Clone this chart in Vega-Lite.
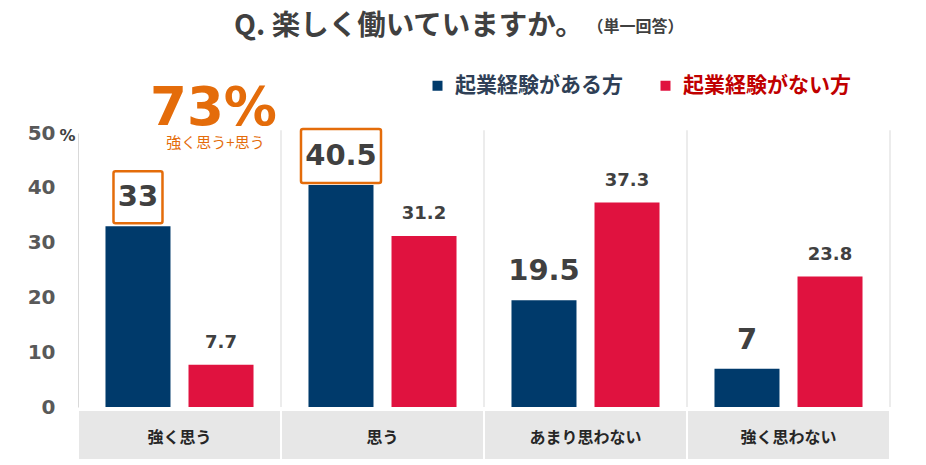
{
  "$schema": "https://vega.github.io/schema/vega-lite/v6.json",
  "width": 812,
  "height": 274,
  "autosize": "none",
  "padding": {"left": 78, "top": 133, "right": 36, "bottom": 58},
  "background": "white",
  "title": {
    "text": "Q. 楽しく働いていますか。",
    "anchor": "start",
    "frame": "group",
    "dx": 156,
    "dy": 21,
    "font": "Noto Sans CJK JP",
    "fontSize": 28.5,
    "fontWeight": "bold",
    "color": "#404040",
    "offset": 0
  },
  "config": {
    "view": {"stroke": null},
    "axisX": {
      "labelFont": "Noto Sans CJK JP",
      "labelFontWeight": "bold",
      "labelFontSize": 16,
      "labelColor": "#262626",
      "ticks": false,
      "domain": false,
      "grid": false,
      "labelPadding": 30,
      "labelBaseline": "middle",
      "labelAngle": 0
    },
    "axisY": {
      "labelFont": "DejaVu Sans",
      "labelFontWeight": "bold",
      "labelFontSize": 20,
      "labelColor": "#595959",
      "ticks": false,
      "domain": true,
      "domainColor": "#d9d9d9",
      "grid": false,
      "labelPadding": 23,
      "titleAngle": 0,
      "titleX": -11,
      "titleY": 2,
      "titleAlign": "center",
      "titleBaseline": "middle",
      "titleFont": "DejaVu Sans",
      "titleFontSize": 16,
      "titleFontWeight": "bold",
      "titleColor": "#404040"
    }
  },
  "data": {
    "values": [
      {"category": "強く思う", "series": "起業経験がある方", "value": 33},
      {"category": "強く思う", "series": "起業経験がない方", "value": 7.7},
      {"category": "思う", "series": "起業経験がある方", "value": 40.5},
      {"category": "思う", "series": "起業経験がない方", "value": 31.2},
      {"category": "あまり思わない", "series": "起業経験がある方", "value": 19.5},
      {"category": "あまり思わない", "series": "起業経験がない方", "value": 37.3},
      {"category": "強く思わない", "series": "起業経験がある方", "value": 7},
      {"category": "強く思わない", "series": "起業経験がない方", "value": 23.8}
    ]
  },
  "layer": [
    {
      "transform": [{"filter": "datum.series === '起業経験がある方'"}],
      "mark": {"type": "rect", "fill": "#e7e7e7", "stroke": "white", "strokeWidth": 2},
      "encoding": {
        "x": {"field": "category", "type": "nominal", "title": null, "axis": {"zindex": 1}, "scale": {"domain": ["強く思う", "思う", "あまり思わない", "強く思わない"], "paddingInner": 0, "paddingOuter": 0}},
        "y": {"datum": -0.55, "type": "quantitative", "title": "%", "scale": {"domain": [0, 50], "nice": false}},
        "y2": {"datum": -9.67}
      }
    },
    {
      "transform": [{"filter": "datum.series === '起業経験がある方'"}],
      "mark": {"type": "rule", "color": "#d9d9d9", "strokeWidth": 1},
      "encoding": {
        "x": {"field": "category", "type": "nominal", "title": null, "axis": {"zindex": 1}, "bandPosition": 1, "scale": {"domain": ["強く思う", "思う", "あまり思わない", "強く思わない"], "paddingInner": 0, "paddingOuter": 0}},
        "y": {"datum": 50.5, "type": "quantitative", "title": "%", "scale": {"domain": [0, 50], "nice": false}},
        "y2": {"datum": 0}
      }
    },
    {
      "mark": {"type": "bar"},
      "encoding": {
        "x": {"field": "category", "type": "nominal", "title": null, "axis": {"zindex": 1}, "scale": {"domain": ["強く思う", "思う", "あまり思わない", "強く思わない"], "paddingInner": 0, "paddingOuter": 0}},
        "xOffset": {"field": "series", "type": "nominal", "scale": {"domain": ["起業経験がある方", "起業経験がない方"], "paddingInner": 0.217, "paddingOuter": 0.331}},
        "y": {"field": "value", "type": "quantitative", "title": "%", "scale": {"domain": [0, 50], "nice": false}},
        "color": {
          "field": "series",
          "type": "nominal",
          "scale": {"domain": ["起業経験がある方", "起業経験がない方"], "range": ["#003a6b", "#e0123f"]},
          "legend": {
            "orient": "none",
            "legendX": 349,
            "legendY": -58,
            "direction": "horizontal",
            "title": null,
            "symbolType": "square",
            "symbolSize": 100,
            "symbolStrokeWidth": 0,
            "symbolOpacity": 1,
            "labelFont": "Noto Sans CJK JP",
            "labelFontSize": 21,
            "labelFontWeight": "bold",
            "labelColor": {"expr": "datum.label === '起業経験がある方' ? '#2f3f56' : '#c00000'"},
            "labelOffset": 7,
            "columnPadding": 32,
            "labelLimit": 400
          }
        }
      }
    },
    {
      "transform": [{"filter": "datum.series === '起業経験がある方' && datum.category === '強く思う'"}],
      "mark": {"type": "bar", "fill": "transparent", "stroke": "#e46c0a", "strokeWidth": 2.5, "cornerRadius": 2, "width": 49, "yOffset": -3, "y2Offset": -55},
      "encoding": {
        "x": {"field": "category", "type": "nominal", "title": null, "axis": {"zindex": 1}, "scale": {"domain": ["強く思う", "思う", "あまり思わない", "強く思わない"], "paddingInner": 0, "paddingOuter": 0}},
        "xOffset": {"field": "series", "type": "nominal", "scale": {"domain": ["起業経験がある方", "起業経験がない方"], "paddingInner": 0.217, "paddingOuter": 0.331}},
        "y": {"field": "value", "type": "quantitative", "title": "%", "scale": {"domain": [0, 50], "nice": false}},
        "y2": {"field": "value"}
      }
    },
    {
      "transform": [{"filter": "datum.series === '起業経験がある方' && datum.category === '思う'"}],
      "mark": {"type": "bar", "fill": "transparent", "stroke": "#e46c0a", "strokeWidth": 2.5, "cornerRadius": 2, "width": 80, "yOffset": -2, "y2Offset": -56},
      "encoding": {
        "x": {"field": "category", "type": "nominal", "title": null, "axis": {"zindex": 1}, "scale": {"domain": ["強く思う", "思う", "あまり思わない", "強く思わない"], "paddingInner": 0, "paddingOuter": 0}},
        "xOffset": {"field": "series", "type": "nominal", "scale": {"domain": ["起業経験がある方", "起業経験がない方"], "paddingInner": 0.217, "paddingOuter": 0.331}},
        "y": {"field": "value", "type": "quantitative", "title": "%", "scale": {"domain": [0, 50], "nice": false}},
        "y2": {"field": "value"}
      }
    },
    {
      "transform": [{"filter": "datum.series === '起業経験がある方'"}],
      "mark": {"type": "text", "font": "DejaVu Sans", "fontWeight": "bold", "fontSize": 29, "color": "#404040", "baseline": "middle", "dy": -29},
      "encoding": {
        "x": {"field": "category", "type": "nominal", "title": null, "axis": {"zindex": 1}, "scale": {"domain": ["強く思う", "思う", "あまり思わない", "強く思わない"], "paddingInner": 0, "paddingOuter": 0}},
        "xOffset": {"field": "series", "type": "nominal", "scale": {"domain": ["起業経験がある方", "起業経験がない方"], "paddingInner": 0.217, "paddingOuter": 0.331}},
        "y": {"field": "value", "type": "quantitative", "title": "%", "scale": {"domain": [0, 50], "nice": false}},
        "text": {"field": "value", "type": "nominal"}
      }
    },
    {
      "transform": [{"filter": "datum.series === '起業経験がない方'"}],
      "mark": {"type": "text", "font": "DejaVu Sans", "fontWeight": "bold", "fontSize": 18, "color": "#404040", "baseline": "middle", "dy": -22},
      "encoding": {
        "x": {"field": "category", "type": "nominal", "title": null, "axis": {"zindex": 1}, "scale": {"domain": ["強く思う", "思う", "あまり思わない", "強く思わない"], "paddingInner": 0, "paddingOuter": 0}},
        "xOffset": {"field": "series", "type": "nominal", "scale": {"domain": ["起業経験がある方", "起業経験がない方"], "paddingInner": 0.217, "paddingOuter": 0.331}},
        "y": {"field": "value", "type": "quantitative", "title": "%", "scale": {"domain": [0, 50], "nice": false}},
        "text": {"field": "value", "type": "nominal"}
      }
    },
    {
      "data": {"values": [{"note": "73%"}]},
      "mark": {"type": "text", "font": "DejaVu Sans", "fontWeight": "bold", "fontSize": 53, "color": "#e46c0a", "baseline": "middle", "align": "center", "dx": 34},
      "encoding": {
        "x": {"datum": "強く思う", "type": "nominal", "title": null, "axis": {"zindex": 1}, "scale": {"domain": ["強く思う", "思う", "あまり思わない", "強く思わない"], "paddingInner": 0, "paddingOuter": 0}},
        "y": {"datum": 54.4, "type": "quantitative", "title": "%", "scale": {"domain": [0, 50], "nice": false}},
        "text": {"field": "note", "type": "nominal"}
      }
    },
    {
      "data": {"values": [{"note": "強く思う+思う"}]},
      "mark": {"type": "text", "font": "Noto Sans CJK JP", "fontWeight": "normal", "fontSize": 15, "color": "#e46c0a", "baseline": "middle", "align": "center", "dx": 36},
      "encoding": {
        "x": {"datum": "強く思う", "type": "nominal", "title": null, "axis": {"zindex": 1}, "scale": {"domain": ["強く思う", "思う", "あまり思わない", "強く思わない"], "paddingInner": 0, "paddingOuter": 0}},
        "y": {"datum": 48.1, "type": "quantitative", "title": "%", "scale": {"domain": [0, 50], "nice": false}},
        "text": {"field": "note", "type": "nominal"}
      }
    },
    {
      "data": {"values": [{"note": "（単一回答）"}]},
      "mark": {"type": "text", "font": "Noto Sans CJK JP", "fontWeight": "bold", "fontSize": 16, "color": "#404040", "baseline": "middle", "align": "center", "dx": 50},
      "encoding": {
        "x": {"datum": "あまり思わない", "type": "nominal", "title": null, "axis": {"zindex": 1}, "scale": {"domain": ["強く思う", "思う", "あまり思わない", "強く思わない"], "paddingInner": 0, "paddingOuter": 0}},
        "y": {"datum": 69.3, "type": "quantitative", "title": "%", "scale": {"domain": [0, 50], "nice": false}},
        "text": {"field": "note", "type": "nominal"}
      }
    }
  ]
}
